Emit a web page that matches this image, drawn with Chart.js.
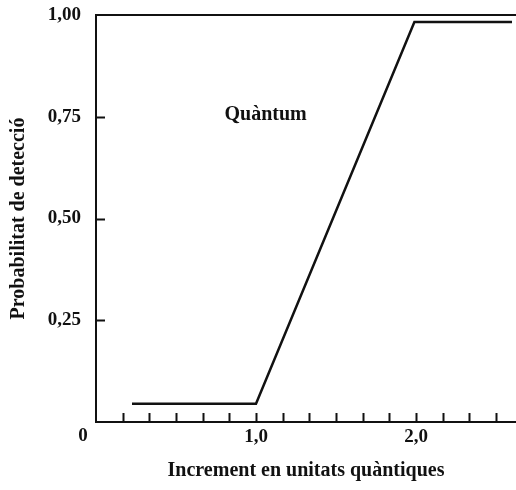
<!DOCTYPE html>
<html>
<head>
<meta charset="utf-8">
<script src="https://cdn.jsdelivr.net/npm/chart.js@4"></script>
<style>
  html, body { margin: 0; padding: 0; background: #fff; }
  #wrap { width: 516px; height: 490px; }
</style>
</head>
<body>
<div id="wrap"><canvas id="chart"></canvas></div>
<script>
// data
const increments = [0.225, 1.0, 1.99, 2.6];
const probabilities = [0.045, 0.045, 0.983, 0.983];
const xTickValues = [1, 2];
const xTickLabels = ['1,0', '2,0'];
const yTickValues = [0.25, 0.5, 0.75, 1];
const yTickLabels = ['0,25', '0,50', '0,75', '1,00'];
const minorStep = 1 / 6;
const curveLabel = 'Quàntum';
const xTitle = 'Increment en unitats quàntiques';
const yTitle = 'Probabilitat de detecció';

const serif = '"Liberation Serif", "DejaVu Serif", serif';
const ink = '#111';

// inward ticks, top frame line, corner "0" and the curve label
const extras = {
  id: 'extras',
  afterDraw(chart) {
    const { ctx, chartArea, scales: { x, y } } = chart;
    ctx.save();
    ctx.strokeStyle = ink;
    ctx.lineWidth = 2;
    ctx.beginPath();
    ctx.moveTo(chartArea.left, y.getPixelForValue(1));
    ctx.lineTo(chartArea.right, y.getPixelForValue(1));
    for (let v = minorStep; v < x.max; v += minorStep) {
      const px = Math.round(x.getPixelForValue(v)) + 0.5;
      ctx.moveTo(px, chartArea.bottom);
      ctx.lineTo(px, chartArea.bottom - 9);
    }
    yTickValues.slice(0, 3).forEach(v => {
      const py = Math.round(y.getPixelForValue(v)) + 0.5;
      ctx.moveTo(chartArea.left, py);
      ctx.lineTo(chartArea.left + 9, py);
    });
    ctx.stroke();
    ctx.fillStyle = ink;
    ctx.font = 'bold 19px ' + serif;
    ctx.textAlign = 'center';
    ctx.textBaseline = 'middle';
    ctx.fillText('0', x.getPixelForValue(0) - 13, chartArea.bottom + 14);
    ctx.font = 'bold 20px ' + serif;
    ctx.fillText(curveLabel, x.getPixelForValue(1.06), y.getPixelForValue(0.755));
    ctx.restore();
  }
};

new Chart(document.getElementById('chart').getContext('2d'), {
  type: 'line',
  data: {
    datasets: [{
      data: increments.map((v, i) => ({ x: v, y: probabilities[i] })),
      borderColor: ink,
      borderWidth: 2.5,
      pointRadius: 0,
      fill: false,
      tension: 0
    }]
  },
  options: {
    responsive: true,
    maintainAspectRatio: false,
    animation: false,
    layout: { padding: { top: 15, right: 0, bottom: 0, left: 0 } },
    plugins: { legend: { display: false }, tooltip: { enabled: false } },
    scales: {
      x: {
        type: 'linear',
        min: 0,
        max: 2.625,
        afterBuildTicks: s => { s.ticks = xTickValues.map(v => ({ value: v })); },
        afterFit: s => { s.height = 68; s.paddingLeft = 0; s.paddingRight = 0; },
        grid: { display: false, drawTicks: false },
        border: { display: true, color: ink, width: 2 },
        ticks: {
          autoSkip: false,
          maxRotation: 0,
          padding: 4,
          color: ink,
          font: { family: serif, size: 19, weight: 'bold' },
          callback: v => xTickLabels[xTickValues.indexOf(v)]
        },
        title: {
          display: true,
          text: xTitle,
          color: ink,
          font: { family: serif, size: 20, weight: 'bold' },
          padding: { top: 0, bottom: 7 }
        }
      },
      y: {
        type: 'linear',
        min: 0,
        max: 1,
        afterBuildTicks: s => { s.ticks = yTickValues.map(v => ({ value: v })); },
        afterFit: s => { s.width = 96; s.paddingTop = 0; s.paddingBottom = 0; },
        grid: { display: false, drawTicks: false },
        border: { display: true, color: ink, width: 2 },
        ticks: {
          autoSkip: false,
          padding: 15,
          color: ink,
          font: { family: serif, size: 19, weight: 'bold' },
          callback: v => yTickLabels[yTickValues.indexOf(v)]
        },
        title: {
          display: true,
          text: yTitle,
          color: ink,
          font: { family: serif, size: 20, weight: 'bold' },
          padding: { top: 7, bottom: 0 }
        }
      }
    }
  },
  plugins: [extras]
});
</script>
</body>
</html>
